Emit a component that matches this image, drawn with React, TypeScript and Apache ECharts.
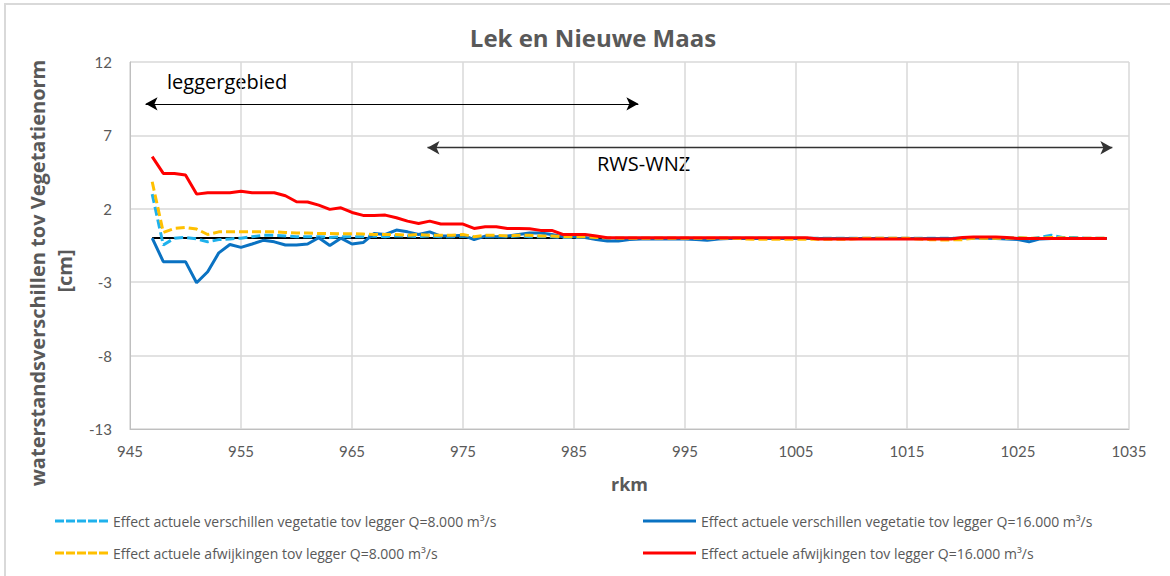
import React, { useEffect, useRef } from 'react';
import * as echarts from 'echarts';

const kms = [
  947, 948, 949, 950, 951, 952, 953, 954, 955, 956,
  957, 958, 959, 960, 961, 962, 963, 964, 965, 966,
  967, 968, 969, 970, 971, 972, 973, 974, 975, 976,
  977, 978, 979, 980, 981, 982, 983, 984, 985, 986,
  987, 988, 989, 990, 991, 992, 993, 994, 995, 996,
  997, 998, 999, 1000, 1001, 1002, 1003, 1004, 1005, 1006,
  1007, 1008, 1009, 1010, 1011, 1012, 1013, 1014, 1015, 1016,
  1017, 1018, 1019, 1020, 1021, 1022, 1023, 1024, 1025, 1026,
  1027, 1028, 1029, 1030, 1031, 1032, 1033,
];

const vegQ8 = [
  3.0, -0.47, 0.0, 0.05, -0.05, -0.25, -0.1, -0.05, 0.0, 0.1,
  0.2, 0.2, 0.15, 0.1, 0.1, 0.1, 0.05, 0.1, 0.1, 0.1,
  0.15, 0.1, 0.15, 0.15, 0.1, 0.15, 0.1, 0.1, 0.15, 0.05,
  0.1, 0.1, 0.1, 0.15, 0.1, 0.1, 0.1, 0.05, 0.05, 0.05,
  0.02, 0.0, 0.0, 0.0, 0.0, 0.0, 0.0, 0.0, 0.0, -0.02,
  -0.05, 0.0, 0.0, 0.0, 0.0, 0.0, -0.02, 0.0, 0.0, 0.0,
  0.0, 0.0, 0.0, 0.0, 0.0, 0.0, 0.0, 0.0, 0.0, 0.0,
  0.0, 0.0, 0.0, 0.0, 0.02, 0.0, 0.0, 0.0, 0.05, -0.05,
  0.05, 0.2, 0.05, 0.05, 0.0, 0.0, 0.0,
];

const vegQ16 = [
  0.0, -1.6, -1.6, -1.6, -3.04, -2.29, -1.0, -0.43, -0.63, -0.4,
  -0.15, -0.25, -0.47, -0.47, -0.4, 0.03, -0.5, 0.0, -0.4, -0.3,
  0.32, 0.25, 0.55, 0.43, 0.25, 0.43, 0.14, 0.14, 0.2, -0.1,
  0.14, 0.1, 0.14, 0.25, 0.35, 0.35, 0.25, 0.1, 0.1, 0.05,
  -0.1, -0.2, -0.2, -0.1, -0.05, -0.05, -0.05, -0.05, -0.05, -0.1,
  -0.15, -0.05, -0.03, -0.03, -0.03, -0.03, -0.03, -0.02, -0.02, -0.02,
  -0.02, -0.02, -0.02, -0.02, -0.02, -0.02, -0.02, -0.02, -0.02, -0.02,
  -0.02, -0.02, -0.02, 0.0, 0.02, 0.0, -0.02, -0.05, -0.1, -0.25,
  -0.05, -0.02, -0.02, -0.02, -0.02, -0.02, -0.02,
];

const afwQ8 = [
  3.84, 0.39, 0.66, 0.73, 0.62, 0.25, 0.43, 0.43, 0.43, 0.43,
  0.43, 0.43, 0.39, 0.35, 0.35, 0.32, 0.32, 0.3, 0.3, 0.28,
  0.25, 0.25, 0.25, 0.2, 0.25, 0.2, 0.2, 0.2, 0.25, 0.1,
  0.2, 0.2, 0.15, 0.2, 0.2, 0.15, 0.15, 0.1, 0.1, 0.1,
  0.05, 0.02, 0.0, 0.0, 0.0, 0.0, 0.0, 0.0, 0.0, 0.0,
  0.0, 0.0, 0.0, -0.03, -0.08, -0.08, -0.08, -0.08, -0.08, -0.08,
  -0.08, -0.08, -0.08, -0.05, 0.0, 0.0, 0.0, 0.0, 0.0, -0.05,
  -0.1, -0.12, -0.12, -0.1, 0.0, 0.0, 0.0, 0.0, 0.02, 0.0,
  0.0, 0.05, 0.02, 0.0, 0.0, 0.0, 0.0,
];

const afwQ16 = [
  5.55, 4.41, 4.41, 4.3, 3.0, 3.09, 3.09, 3.09, 3.2, 3.09,
  3.09, 3.09, 2.89, 2.48, 2.46, 2.25, 1.96, 2.07, 1.75, 1.55,
  1.55, 1.57, 1.39, 1.16, 1.0, 1.16, 0.96, 0.96, 0.96, 0.66,
  0.78, 0.78, 0.66, 0.66, 0.64, 0.53, 0.53, 0.25, 0.25, 0.25,
  0.14, 0.03, 0.02, 0.02, 0.02, 0.02, 0.02, 0.02, 0.02, 0.02,
  0.02, 0.02, 0.02, 0.02, 0.02, 0.02, 0.02, 0.02, 0.02, 0.02,
  -0.05, -0.05, -0.05, -0.05, -0.05, -0.05, -0.05, -0.05, -0.05, -0.05,
  -0.05, -0.05, -0.05, 0.05, 0.08, 0.08, 0.08, 0.05, -0.03, -0.03,
  -0.03, -0.03, -0.03, -0.03, -0.03, -0.03, -0.03,
];

const seriesNames = [
  'Effect actuele verschillen vegetatie tov legger Q=8.000 m³/s',
  'Effect actuele verschillen vegetatie tov legger Q=16.000 m³/s',
  'Effect actuele afwijkingen tov legger Q=8.000 m³/s',
  'Effect actuele afwijkingen tov legger Q=16.000 m³/s',
];

// range arrows: [startKm, endKm, level]
const leggerArrow = [946.4, 990.8, 9.15];
const rwsArrow = [971.8, 1033.5, 6.16];

const xTicks = { min: 945, max: 1035, interval: 10 };
const yTicks = { min: -13, max: 12, interval: 5 };

const FONT = 'Lato, "Open Sans", sans-serif';
const OPEN = '"Open Sans", Lato, sans-serif';
const GRAY = '#595959';

const DASH_ICON = 'path://M0,0h9v3h-9z M11,0h9v3h-9z M22,0h9v3h-9z M33,0h9v3h-9z M44,0h9v3h-9z';
const SOLID_ICON = 'path://M0,0h53v3h-53z';

function pairs(vals: number[]) {
  return kms.map((k, i) => [k, vals[i]]);
}

export default function App() {
  const ref = useRef<HTMLDivElement>(null);
  useEffect(() => {
    document.body.style.margin = '0';
    const chart = echarts.init(ref.current!, null, { renderer: 'svg' });
    const legendCommon = {
      itemWidth: 53,
      itemHeight: 3,
      padding: 0,
      selectedMode: false,
      textStyle: { fontFamily: OPEN, fontSize: 14, color: GRAY },
    };
    const arrowEnd = (km: number, lvl: number) => ({ coord: [km, lvl], symbol: 'arrow', symbolSize: [10, 12] });
    const option: any = {
      animation: false,
      backgroundColor: '#fff',
      grid: { left: 130, right: 41, top: 62, bottom: 147, containLabel: false },
      legend: [
        { ...legendCommon, data: [{ name: seriesNames[0], icon: DASH_ICON }], left: 55, top: 514 },
        { ...legendCommon, data: [{ name: seriesNames[1], icon: SOLID_ICON }], left: 643, top: 514 },
        { ...legendCommon, data: [{ name: seriesNames[2], icon: DASH_ICON }], left: 55, top: 546 },
        { ...legendCommon, data: [{ name: seriesNames[3], icon: SOLID_ICON }], left: 643, top: 546 },
      ],
      xAxis: {
        type: 'value',
        min: xTicks.min,
        max: xTicks.max,
        interval: xTicks.interval,
        name: 'rkm',
        nameLocation: 'middle',
        nameGap: 46,
        nameTextStyle: { fontFamily: OPEN, fontSize: 18, fontWeight: 'bold', color: GRAY },
        axisLine: { show: true, onZero: false, lineStyle: { color: '#BFBFBF', width: 1 } },
        axisTick: { show: false },
        axisLabel: { fontFamily: FONT, fontSize: 15, color: GRAY, margin: 14, formatter: (v: number) => String(v) },
        splitLine: { show: true, lineStyle: { color: '#D9D9D9', width: 1.5 } },
      },
      yAxis: {
        type: 'value',
        min: yTicks.min,
        max: yTicks.max,
        interval: yTicks.interval,
        axisLine: { show: true, lineStyle: { color: '#BFBFBF', width: 1 } },
        axisTick: { show: false },
        axisLabel: { fontFamily: FONT, fontSize: 15, color: GRAY, margin: 18, formatter: (v: number) => String(v) },
        splitLine: { show: true, lineStyle: { color: '#D9D9D9', width: 1.5 } },
      },
      graphic: [
        {
          type: 'rect',
          shape: { x: 5, y: 4, width: 1200, height: 600 },
          style: { fill: 'none', stroke: '#D9D9D9', lineWidth: 2 },
          silent: true,
        },
        {
          type: 'text',
          x: 593,
          y: 37,
          style: {
            text: 'Lek en Nieuwe Maas',
            fontFamily: OPEN, fontSize: 24, fontWeight: 'bold', fill: GRAY,
            align: 'center', verticalAlign: 'middle',
          },
        },
        {
          type: 'text',
          x: 37,
          y: 273,
          rotation: Math.PI / 2,
          style: {
            text: 'waterstandsverschillen tov Vegetatienorm',
            fontFamily: OPEN, fontSize: 20, fontWeight: 'bold', fill: GRAY,
            align: 'center', verticalAlign: 'middle',
          },
        },
        {
          type: 'text',
          x: 64,
          y: 271,
          rotation: Math.PI / 2,
          style: {
            text: '[cm]',
            fontFamily: OPEN, fontSize: 20, fontWeight: 'bold', fill: GRAY,
            align: 'center', verticalAlign: 'middle',
          },
        },
        {
          type: 'text',
          x: 167,
          y: 81,
          style: { text: 'leggergebied', fontFamily: OPEN, fontSize: 20, fill: '#000', verticalAlign: 'middle' },
        },
        {
          type: 'text',
          x: 597,
          y: 163,
          style: { text: 'RWS-WNZ', fontFamily: OPEN, fontSize: 20, fill: '#000', verticalAlign: 'middle' },
        },
      ],
      series: [
        {
          name: 'ref',
          type: 'line',
          data: [],
          silent: true,
          markLine: {
            silent: true,
            animation: false,
            z: 1,
            label: { show: false },
            emphasis: { disabled: true },
            data: [
              [
                { coord: [kms[0], 0], symbol: 'none', lineStyle: { color: '#000', width: 2, type: 'solid' } },
                { coord: [kms[kms.length - 1], 0], symbol: 'none' },
              ],
              [
                { ...arrowEnd(leggerArrow[0], leggerArrow[2]), lineStyle: { color: '#000', width: 1, type: 'solid' } },
                arrowEnd(leggerArrow[1], leggerArrow[2]),
              ],
              [
                { ...arrowEnd(rwsArrow[0], rwsArrow[2]), lineStyle: { color: '#333', width: 1.3, type: 'solid' } },
                arrowEnd(rwsArrow[1], rwsArrow[2]),
              ],
            ],
          },
        },
        {
          name: seriesNames[0],
          type: 'line',
          symbol: 'none',
          data: pairs(vegQ8),
          color: '#1FB1EC',
          lineStyle: { width: 3, color: '#1FB1EC', type: [9, 4] },
        },
        {
          name: seriesNames[1],
          type: 'line',
          symbol: 'none',
          data: pairs(vegQ16),
          color: '#0A72C2',
          lineStyle: { width: 3, color: '#0A72C2' },
        },
        {
          name: seriesNames[2],
          type: 'line',
          symbol: 'none',
          data: pairs(afwQ8),
          color: '#FFC000',
          lineStyle: { width: 3, color: '#FFC000', type: [9, 4] },
        },
        {
          name: seriesNames[3],
          type: 'line',
          symbol: 'none',
          data: pairs(afwQ16),
          color: '#FF0000',
          lineStyle: { width: 3, color: '#FF0000' },
        },
      ],
    };
    chart.setOption(option);
    return () => chart.dispose();
  }, []);
  return <div ref={ref} style={{ width: 1170, height: 576 }} />;
}
